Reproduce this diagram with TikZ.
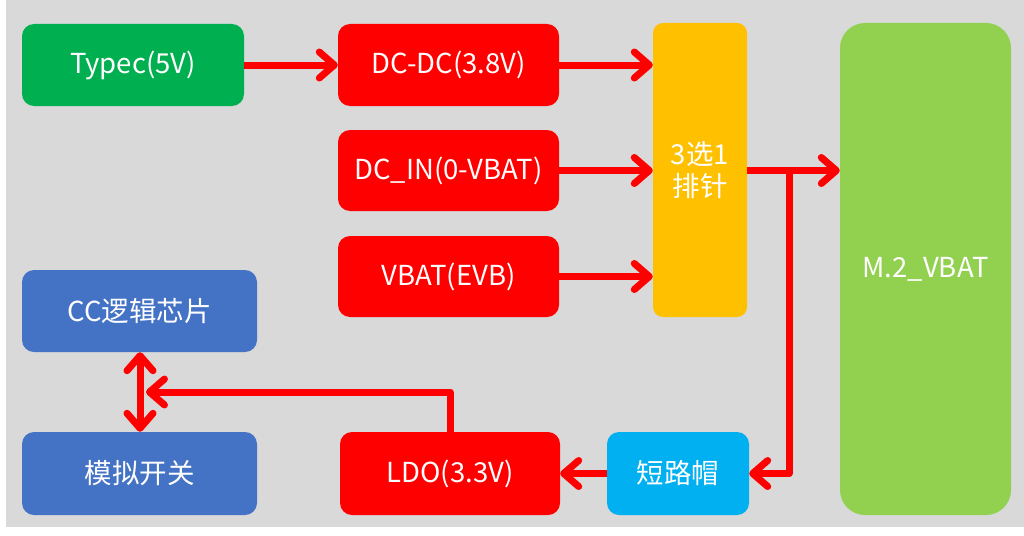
\documentclass[tikz,border=0pt]{standalone}
\usepackage{fontspec}
\setmainfont{Noto Sans CJK SC}
\usetikzlibrary{arrows.meta}
\definecolor{bggray}{HTML}{D9D9D9}
\definecolor{cgreen}{HTML}{00B050}
\definecolor{cred}{HTML}{FF0000}
\definecolor{corange}{HTML}{FFC000}
\definecolor{clime}{HTML}{92D050}
\definecolor{cblue}{HTML}{4472C4}
\definecolor{ccyan}{HTML}{00B0F0}
\tikzset{
  blk/.style={rectangle, rounded corners=12pt, inner sep=0pt, text=white,
    font=\fontsize{27.5}{33}\selectfont, align=center},
  barb/.tip={Straight Barb[length=15pt,width=26pt,line cap=round,line join=round]},
  conn/.style={draw=cred, line width=7pt, line join=round, -barb},
  conn2/.style={draw=cred, line width=7pt, line join=round, barb-barb}
}
\begin{document}
\begin{tikzpicture}[x=1pt,y=-1pt]
\useasboundingbox (0,0) rectangle (1024,535);
\fill[white] (0,0) rectangle (1024,535);
\fill[bggray] (6,0) rectangle (1024,527);

\node[blk, fill=cgreen, minimum width=222pt, minimum height=82pt] (typec) at (133,65) {Typec(5V)};
\node[blk, fill=cred, minimum width=221pt, minimum height=82pt] (dcdc) at (448.5,65) {DC-DC(3.8V)};
\node[blk, fill=cred, minimum width=221pt, minimum height=81pt] (dcin) at (448.5,170.5) {DC\_IN(0-VBAT)};
\node[blk, fill=cred, minimum width=221pt, minimum height=81pt] (vbat) at (448.5,276.5) {VBAT(EVB)};
\node[blk, fill=corange, rounded corners=10pt, minimum width=94pt, minimum height=294pt] (sel) at (700,170) {3选1\\[-1pt]排针};
\node[blk, fill=clime, rounded corners=25pt, minimum width=171pt, minimum height=492pt] (m2) at (925.5,269) {M.2\_VBAT};
\node[blk, fill=cblue, minimum width=235pt, minimum height=82pt] (cc) at (139.5,311) {CC逻辑芯片};
\node[blk, fill=cblue, minimum width=235pt, minimum height=83pt] (sw) at (139.5,473.5) {模拟开关};
\node[blk, fill=cred, minimum width=220pt, minimum height=83pt] (ldo) at (450,473.5) {LDO(3.3V)};
\node[blk, fill=ccyan, minimum width=142pt, minimum height=83pt] (cap) at (678,473.5) {短路帽};

\draw[conn] (typec.east) -- (dcdc.west);
\draw[conn] (dcdc.east) -- (sel.west |- dcdc.east);
\draw[conn] (dcin.east) -- (sel.west |- dcin.east);
\draw[conn] (vbat.east) -- (sel.west |- vbat.east);
\draw[conn] (sel.east |- dcin.east) -- (m2.west |- dcin.east);
\coordinate (jn) at (789,170.5);
\draw[conn] (jn) |- (cap.east);
\draw[conn] (cap.west) -- (ldo.east);
\coordinate (bend) at (450,392);
\coordinate (mid) at (146,392);
\draw[conn] (ldo.north) -- (bend) -- (mid);
\draw[conn2] ([xshift=0.5pt]cc.south) -- ([xshift=0.5pt]sw.north);
\end{tikzpicture}
\end{document}
